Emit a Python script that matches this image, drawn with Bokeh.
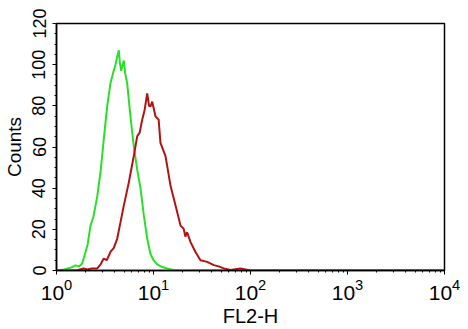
from bokeh.plotting import figure
from bokeh.models import Range1d, SingleIntervalTicker, LogTicker
from bokeh.embed import file_html
from bokeh.resources import INLINE

# Green histogram (control)
green_x = [1.0, 1.2, 1.39, 1.57, 1.7, 1.84, 1.99, 2.1, 2.24, 2.4, 2.63, 2.84, 3.07, 3.33,
           3.6, 3.9, 4.05, 4.22, 4.39, 4.5, 4.65, 4.8, 4.94, 5.1, 5.35, 5.79, 6.26, 6.79,
           7.34, 7.94, 8.61, 9.31, 10.0, 10.9, 12.2, 13.8, 16.1, 20.0, 40.0, 63.0, 10000.0]
green_y = [0, 0.5, 1.3, 2.5, 2.0, 3.4, 9, 13, 21.8, 26, 36, 47.5, 63.6, 79.7,
           91, 97.3, 100, 103.8, 107, 101, 97, 100, 102, 96, 91, 74.8, 60.4, 49,
           40, 27, 15.4, 8, 5, 3, 1.8, 1, 0.2, 0, 0.3, 0, 0]

# Red histogram (antibody stained)
red_x = [1.0, 1.6, 1.9, 2.07, 2.3, 2.63, 2.85, 3.07, 3.3, 3.6, 3.9, 4.22, 4.57, 4.94,
         5.56, 6.26, 6.79, 7.2, 7.65, 8.1, 8.61, 9.0, 9.31, 9.7, 10.5, 11.3, 11.8,
         13.3, 15.0, 16.9, 19.0, 20.5, 21.3, 22.2, 24.1, 27.1, 30.5, 35.8, 41.9,
         47.0, 53.1, 62.2, 70.0, 78.9, 100.0, 10000.0]
red_y = [0, 0, 1, 0.5, 1, 1, 3, 5.8, 5, 9, 11, 15.4, 23.5, 31.5,
         42.7, 55.6, 65.2, 67, 73.3, 78, 86, 80, 79.7, 82, 74.8, 73.3, 62,
         55.6, 41, 31.5, 21.8, 20.2, 16.5, 18.6, 13.8, 9, 5, 4.2, 2.6,
         2.0, 1, 0.2, 0.6, 1, 0, 0]

y_ticks_interval = 20

p = figure(width=468, height=329, x_axis_type="log",
           x_range=Range1d(1, 10000), y_range=Range1d(0, 120),
           output_backend="svg", toolbar_location=None,
           min_border_left=56, min_border_top=23, min_border_right=24, min_border_bottom=57)

p.line(green_x, green_y, line_color="#28e028", line_width=2)
p.line(red_x, red_y, line_color="#b31212", line_width=2)

p.xgrid.visible = False
p.ygrid.visible = False
p.outline_line_color = "black"
p.outline_line_width = 1.5
p.background_fill_color = "white"
p.border_fill_color = "white"

p.yaxis.ticker = SingleIntervalTicker(interval=y_ticks_interval, num_minor_ticks=4)
p.xaxis.ticker = LogTicker(num_minor_ticks=10)

for ax in (p.xaxis[0], p.yaxis[0]):
    ax.axis_line_color = "black"
    ax.axis_line_width = 1.5
    ax.major_tick_line_color = "black"
    ax.minor_tick_line_color = "black"
    ax.major_tick_in = 0
    ax.minor_tick_in = 0
    ax.major_tick_out = 4
    ax.minor_tick_out = 2
    ax.major_label_text_font = "Liberation Sans"
    ax.major_label_text_color = "black"
    ax.axis_label_text_font = "Liberation Sans"
    ax.axis_label_text_font_style = "normal"
    ax.axis_label_text_color = "black"

p.xaxis.axis_label = "FL2-H"
p.yaxis.axis_label = "Counts"
p.xaxis.major_label_text_font_size = "21px"
p.yaxis.major_label_text_font_size = "18px"
p.yaxis.major_label_orientation = "vertical"
p.xaxis.axis_label_text_font_size = "20px"
p.yaxis.axis_label_text_font_size = "19px"
p.xaxis.major_label_standoff = 4
p.yaxis.major_label_standoff = 7
p.xaxis.axis_label_standoff = 2
p.yaxis.axis_label_standoff = 5

open("out.html", "w").write(file_html(p, INLINE))
